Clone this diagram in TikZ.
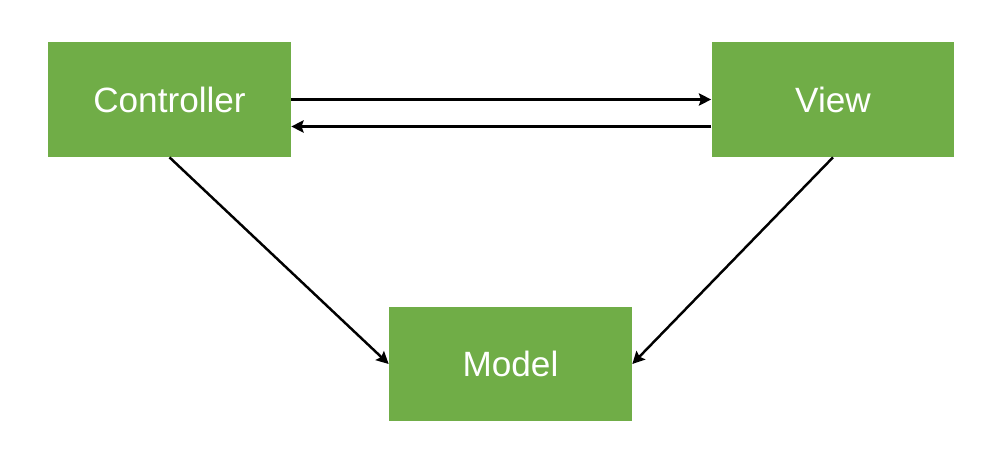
\documentclass[tikz,border=0pt]{standalone}
\usepackage{fontspec}
\setmainfont{Liberation Sans}
\usepackage{tikz}
\usetikzlibrary{arrows.meta, positioning}
\definecolor{boxgreen}{HTML}{70AD47}

\begin{document}
\begin{tikzpicture}[x=0.02cm, y=-0.02cm,
    box/.style={fill=boxgreen, text=white, minimum width=4.86cm, minimum height=2.3cm, inner sep=0pt, font=\fontsize{20}{24}\selectfont},
    link/.style={line width=1.4pt, -{Stealth[length=7pt, width=7pt, inset=1.2pt]}}]
  \useasboundingbox (0,0) rectangle (1004,460);
  \node[box](ctrl) at (169.5,99.5){Controller};
  \node[box](view) at (833,99.5){View};
  \node[box](model) at (510.5,364){Model};
  \draw[link](ctrl.east)--(view.west);
  \draw[link]([yshift=-0.54cm]view.west)--([yshift=-0.54cm]ctrl.east);
  \draw[link](ctrl.south)--(model.west);
  \draw[link](view.south)--(model.east);
\end{tikzpicture}
\end{document}
